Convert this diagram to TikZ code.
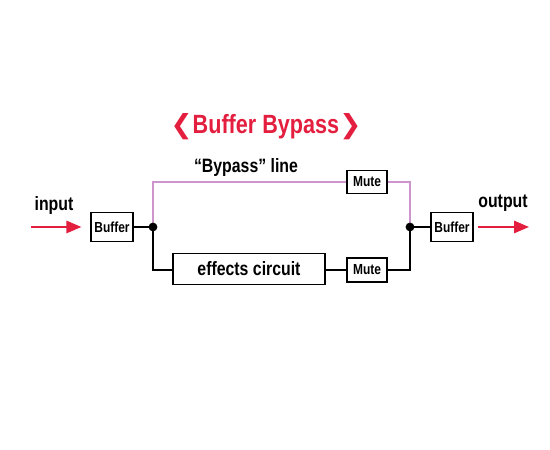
\documentclass[tikz,border=0pt]{standalone}
\usepackage{fontspec}
\setmainfont{Liberation Sans}[FakeStretch=0.82]
\newfontfamily\chevfont{DejaVu Sans}
\usetikzlibrary{arrows.meta,positioning}
\definecolor{bbred}{RGB}{228,30,62}
\definecolor{bbpink}{RGB}{206,148,206}

\begin{document}
\begin{tikzpicture}[x=.2mm,y=-.2mm,font=\bfseries\fontsize{11}{13}\selectfont,
    blk/.style={draw,line width=.7pt,inner sep=0pt,fill=white},
    small/.style={font=\bfseries\fontsize{8.3}{9}\selectfont},
    sig/.style={line width=1.1pt},
    bypass/.style={draw=bbpink,line width=1pt},
    jn/.style={circle,fill,inner sep=0pt,minimum size=5pt},
    inout/.style={draw=bbred,line width=1.1pt,-{Triangle[length=8.5pt,width=7pt]}}]
  \useasboundingbox (0,0) rectangle (550,450);
  % title
  \node[text=bbred,font=\bfseries\fontsize{15}{18}\selectfont] (title) at (266,127)
    {{\chevfont\bfseries ❮}Buffer Bypass{\chevfont\bfseries ❯}};
  % blocks
  \node[blk,small,minimum width=8.4mm,minimum height=5.8mm] (inbuf) at (112,227) {Buffer};
  \node[blk,small,minimum width=8.4mm,minimum height=5.8mm] (outbuf) at (452,227) {Buffer};
  \node[blk,minimum width=30.4mm,minimum height=6.2mm] (effects) at (249,269) {effects circuit};
  \node[blk,small,minimum width=8mm,minimum height=4.6mm] (mutetop) at (367,182) {Mute};
  \node[blk,small,minimum width=8mm,minimum height=4.8mm] (mutebot) at (367,270) {Mute};
  \coordinate (splitL) at (153,227);
  \coordinate (splitR) at (410,227);
  \coordinate (instart) at (31,227);
  \coordinate (outend) at (529,227);
  % labels
  \node (inlabel) at (54,206) {input};
  \node (outlabel) at (503,203) {output};
  \node (bplabel) at (246,168) {“Bypass” line};
  % bypass line
  \draw[bypass] (splitL) |- (mutetop.west);
  \draw[bypass] (mutetop.east) -| (splitR);
  % effects path
  \draw[sig] (inbuf) -- (splitL);
  \draw[sig] (splitL) |- (effects.west |- mutebot);
  \draw[sig] (effects.east |- mutebot) -- (mutebot);
  \draw[sig] (mutebot) -| (splitR);
  \draw[sig] (splitR) -- (outbuf);
  \node[jn] (dotL) at (splitL) {};
  \node[jn] (dotR) at (splitR) {};
  % in / out
  \draw[inout,shorten >=1.8mm] (instart) -- (inbuf.west);
  \draw[inout,shorten <=.8mm] (outbuf.east) -- (outend);
\end{tikzpicture}
\end{document}
